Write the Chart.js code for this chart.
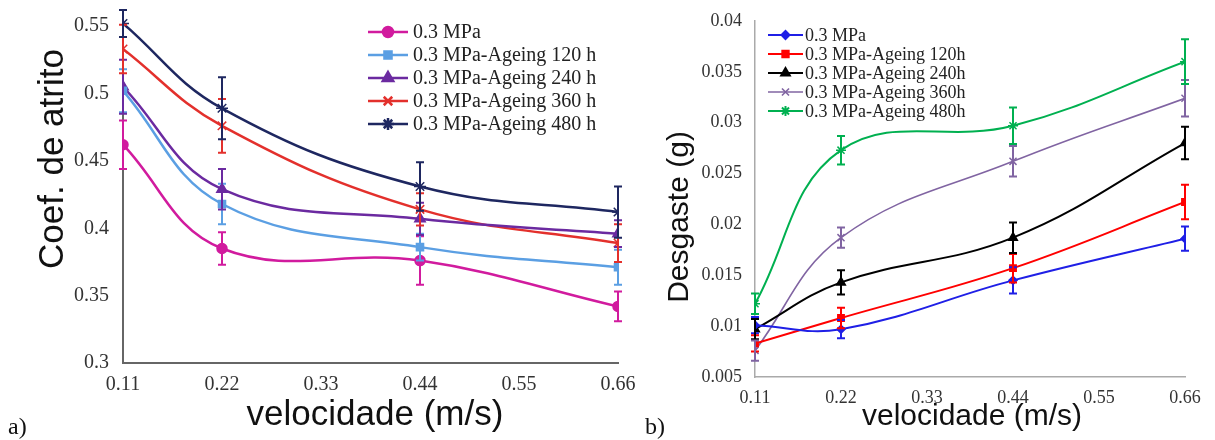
<!DOCTYPE html>
<html>
<head>
<meta charset="utf-8">
<script src="https://cdn.jsdelivr.net/npm/chart.js@4/dist/chart.umd.min.js"></script>
<style>
  html, body { margin:0; padding:0; background:#fff; }
  #wrap { position:relative; width:1215px; height:440px; }
  .box { position:absolute; top:0; height:440px; }
  #boxA { left:0; width:640px; }
  #boxB { left:640px; width:575px; }
</style>
</head>
<body>
<div id="wrap">
  <div class="box" id="boxA"><canvas id="chartA"></canvas></div>
  <div class="box" id="boxB"><canvas id="chartB"></canvas></div>
</div>
<script>
// ---- data ----
const velocidade = [0.11, 0.22, 0.44, 0.66];
const xTicks = [0.11, 0.22, 0.33, 0.44, 0.55, 0.66];
const seriesNames = ['0.3 MPa', '0.3 MPa-Ageing 120 h', '0.3 MPa-Ageing 240 h', '0.3 MPa-Ageing 360 h', '0.3 MPa-Ageing 480 h'];
const seriesNamesB = ['0.3 MPa', '0.3 MPa-Ageing 120h', '0.3 MPa-Ageing 240h', '0.3 MPa-Ageing 360h', '0.3 MPa-Ageing 480h'];

// a) coeficiente de atrito
const coefTicks = [0.3, 0.35, 0.4, 0.45, 0.5, 0.55];
const coef_0h   = [0.462, 0.385, 0.376, 0.342];
const coef_120h = [0.502, 0.418, 0.386, 0.371];
const coef_240h = [0.505, 0.429, 0.407, 0.396];
const coef_360h = [0.533, 0.476, 0.414, 0.389];
const coef_480h = [0.552, 0.489, 0.431, 0.412];
const coefErr_0h   = [0.018, 0.012, 0.018, 0.011];
const coefErr_120h = [0.016, 0.015, 0.010, 0.013];
const coefErr_240h = [0.020, 0.015, 0.012, 0.010];
const coefErr_360h = [0.018, 0.020, 0.012, 0.014];
const coefErr_480h = [0.010, 0.023, 0.018, 0.019];

// b) desgaste
const desgTicks = [0.005, 0.01, 0.015, 0.02, 0.025, 0.03, 0.035, 0.04];
const desg_0h   = [0.0101, 0.0097, 0.0145, 0.0186];
const desg_120h = [0.0083, 0.0108, 0.0157, 0.0222];
const desg_240h = [0.0097, 0.0143, 0.0187, 0.0280];
const desg_360h = [0.0076, 0.0187, 0.0262, 0.0324];
const desg_480h = [0.0122, 0.0273, 0.0297, 0.0360];
const desgErr_0h   = [0.0008, 0.0009, 0.0013, 0.0012];
const desgErr_120h = [0.0008, 0.0010, 0.0014, 0.0017];
const desgErr_240h = [0.0010, 0.0012, 0.0015, 0.0016];
const desgErr_360h = [0.0010, 0.0010, 0.0015, 0.0018];
const desgErr_480h = [0.0010, 0.0014, 0.0018, 0.0022];

const SERIF = '"Liberation Serif", "Times New Roman", serif';
const SANS = '"Liberation Sans", Arial, sans-serif';

function pts(ys){ return velocidade.map((x,i)=>({x:x, y:ys[i]})); }

function makeSet(label, ys, errs, color, style, radius, width){
  return {
    label, data: pts(ys), errors: errs,
    borderColor: color, backgroundColor: color,
    pointBackgroundColor: color, pointBorderColor: color,
    pointStyle: style, pointRadius: radius, pointBorderWidth: 1.5,
    borderWidth: width, tension: 0.4, fill: false
  };
}

// ---- plugins ----
const errorBars = {
  id: 'errorBars',
  afterDatasetsDraw(chart){
    const ctx = chart.ctx, y = chart.scales.y;
    chart.data.datasets.forEach((ds, di)=>{
      const meta = chart.getDatasetMeta(di);
      ctx.save();
      ctx.strokeStyle = ds.borderColor;
      ctx.lineWidth = 2;
      meta.data.forEach((p, i)=>{
        const v = ds.data[i].y, e = ds.errors[i];
        const top = y.getPixelForValue(v + e), bot = y.getPixelForValue(v - e);
        ctx.beginPath();
        ctx.moveTo(p.x, top); ctx.lineTo(p.x, bot);
        ctx.moveTo(p.x - 4, top); ctx.lineTo(p.x + 4, top);
        ctx.moveTo(p.x - 4, bot); ctx.lineTo(p.x + 4, bot);
        ctx.stroke();
      });
      ctx.restore();
    });
  }
};

const decor = {
  id: 'decor',
  afterDraw(chart, args, o){
    const ctx = chart.ctx;
    ctx.save();
    // legend
    const lg = o.legend;
    ctx.font = lg.font;
    ctx.textBaseline = 'middle';
    ctx.textAlign = 'left';
    chart.data.datasets.forEach((ds, i)=>{
      const yy = lg.y + i * lg.step;
      ctx.strokeStyle = ds.borderColor;
      ctx.lineWidth = ds.borderWidth;
      ctx.beginPath(); ctx.moveTo(lg.x1, yy); ctx.lineTo(lg.x2, yy); ctx.stroke();
      ctx.fillStyle = ds.borderColor;
      Chart.helpers.drawPoint(ctx, {pointStyle: ds.pointStyle, radius: ds.pointRadius, rotation: 0, borderWidth: 1.5}, (lg.x1 + lg.x2) / 2, yy);
      ctx.fillStyle = '#222';
      ctx.fillText(ds.label, lg.tx, yy + 1);
    });
    // axis titles
    ctx.fillStyle = '#111';
    ctx.textAlign = 'center';
    ctx.textBaseline = 'middle';
    ctx.font = o.titleFont;
    ctx.fillText(o.xTitle.text, o.xTitle.x, o.xTitle.y);
    ctx.save();
    ctx.translate(o.yTitle.x, o.yTitle.y);
    ctx.rotate(-Math.PI / 2);
    ctx.fillText(o.yTitle.text, 0, 0);
    ctx.restore();
    // panel letter
    ctx.font = o.tagFont;
    ctx.textAlign = 'left';
    ctx.fillText(o.tag.text, o.tag.x, o.tag.y);
    ctx.restore();
  }
};

function baseOptions(cfg){
  return {
    responsive: true,
    maintainAspectRatio: false,
    animation: false,
    layout: { padding: cfg.padding },
    plugins: { legend: { display: false }, tooltip: { enabled: false }, decor: cfg.decor },
    scales: {
      x: {
        type: 'linear', min: 0.11, max: 0.66,
        afterBuildTicks: s => { s.ticks = xTicks.map(v => ({value: v})); },
        afterFit: s => { s.height = cfg.xHeight; s.paddingLeft = 0; s.paddingRight = 0; },
        grid: { display: false, drawTicks: false },
        border: { display: true, color: cfg.axisColor, width: cfg.axisWidth },
        ticks: { color: '#333', font: { family: SERIF, size: cfg.tickSize }, padding: cfg.xPad, maxRotation: 0,
                 callback: v => v.toFixed(2) }
      },
      y: {
        min: cfg.yMin, max: cfg.yMax,
        afterBuildTicks: s => { s.ticks = cfg.yTicks.map(v => ({value: v})); },
        afterFit: s => { s.width = cfg.yWidth; s.paddingTop = 0; s.paddingBottom = 0; },
        grid: { display: false, drawTicks: false },
        border: { display: true, color: cfg.axisColor, width: cfg.axisWidth },
        ticks: { color: '#333', font: { family: SERIF, size: cfg.tickSize }, padding: cfg.yPad,
                 callback: v => String(+v.toFixed(3)) }
      }
    }
  };
}

// ---- chart a) ----
new Chart(document.getElementById('chartA'), {
  type: 'line',
  data: { datasets: [
    makeSet(seriesNames[0], coef_0h,   coefErr_0h,   '#d11b9e', 'circle',   5, 2.5),
    makeSet(seriesNames[1], coef_120h, coefErr_120h, '#5b9fe3', 'rect',     5, 2.5),
    makeSet(seriesNames[2], coef_240h, coefErr_240h, '#6b2aa0', 'triangle', 6, 2.5),
    makeSet(seriesNames[3], coef_360h, coefErr_360h, '#e3302c', 'crossRot', 6, 2.5),
    makeSet(seriesNames[4], coef_480h, coefErr_480h, '#1e2760', 'star',     6, 2.5)
  ]},
  options: baseOptions({
    padding: { left: 0, right: 22, top: 14, bottom: 0 },
    xHeight: 77, yWidth: 123, yMin: 0.3, yMax: 0.559, yTicks: coefTicks,
    axisColor: '#666', axisWidth: 2, tickSize: 20, xPad: 10, yPad: 14,
    decor: {
      legend: { x1: 368, x2: 408, tx: 413, y: 32, step: 23, font: '20px ' + SERIF },
      titleFont: '35px ' + SANS,
      xTitle: { text: 'velocidade (m/s)', x: 375, y: 415 },
      yTitle: { text: 'Coef. de atrito', x: 53, y: 159 },
      tagFont: '24px ' + SERIF,
      tag: { text: 'a)', x: 8, y: 428 }
    }
  }),
  plugins: [errorBars, decor]
});

// ---- chart b) ----
new Chart(document.getElementById('chartB'), {
  type: 'line',
  data: { datasets: [
    makeSet(seriesNamesB[0], desg_0h,   desgErr_0h,   '#1f1fe6', 'rectRot',  4, 2),
    makeSet(seriesNamesB[1], desg_120h, desgErr_120h, '#ff0000', 'rect',     4.5, 2),
    makeSet(seriesNamesB[2], desg_240h, desgErr_240h, '#000000', 'triangle', 5, 2),
    makeSet(seriesNamesB[3], desg_360h, desgErr_360h, '#8064a2', 'crossRot', 5, 1.6),
    makeSet(seriesNamesB[4], desg_480h, desgErr_480h, '#00b050', 'star',     5, 2)
  ]},
  options: baseOptions({
    padding: { left: 0, right: 30, top: 21, bottom: 0 },
    xHeight: 63, yWidth: 115, yMin: 0.005, yMax: 0.04, yTicks: desgTicks,
    axisColor: '#aaa', axisWidth: 1.5, tickSize: 18, xPad: 10, yPad: 13,
    decor: {
      legend: { x1: 128, x2: 163, tx: 165, y: 35, step: 19, font: '18px ' + SERIF },
      titleFont: '30px ' + SANS,
      xTitle: { text: 'velocidade (m/s)', x: 332, y: 417 },
      yTitle: { text: 'Desgaste (g)', x: 40, y: 217 },
      tagFont: '24px ' + SERIF,
      tag: { text: 'b)', x: 5, y: 428 }
    }
  }),
  plugins: [errorBars, decor]
});
</script>
</body>
</html>
